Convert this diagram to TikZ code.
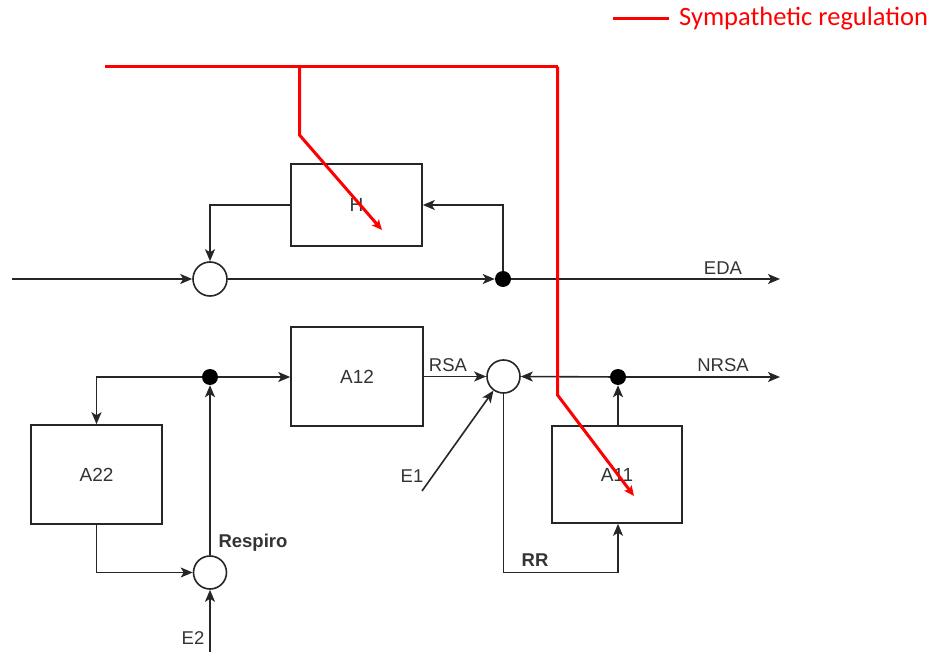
\documentclass[tikz,border=0pt]{standalone}
\usepackage{fontspec}
\setmainfont{Liberation Sans}
\newfontfamily\legendfont{Carlito}
\usetikzlibrary{arrows.meta}
\definecolor{txt}{HTML}{333333}
\definecolor{sred}{HTML}{FF0000}
\tikzset{
  blk/.style={draw=black!85, line width=1.6pt, fill=white, inner sep=0pt, text=txt,
     font=\fontsize{19}{22}\selectfont},
  sumc/.style={circle, draw=black!85, line width=1.6pt, fill=white, inner sep=0pt, minimum size=33pt},
  jdot/.style={circle, fill=black, inner sep=0pt, minimum size=16pt},
  conn/.style={draw=black!85, line width=1.6pt, -{Stealth[length=12pt,width=10pt,inset=3pt]}},
  plain/.style={draw=black!85, line width=1.6pt},
  lbl/.style={text=txt, font=\fontsize{18.5}{22}\selectfont, inner sep=0pt},
  blbl/.style={text=txt, font=\fontsize{18.5}{22}\selectfont\bfseries, inner sep=0pt},
  sym/.style={draw=sred, line width=3pt, line join=miter},
  symarr/.style={sym, -{Stealth[length=10pt,width=9pt,inset=2pt]}}
}
\begin{document}
\begin{tikzpicture}[x=1pt,y=-1pt]
\useasboundingbox (0,0) rectangle (935,652);
% legend
\coordinate (lg1) at (613,19);
\coordinate (lg2) at (669,19);
\draw[sym] (lg1) -- (lg2);
\node[anchor=west, text=sred, font=\legendfont\fontsize{26.5}{30}\selectfont, inner sep=0pt] (legend) at (679,19) {Sympathetic regulation};

% blocks
\node[blk, minimum width=131pt, minimum height=82pt] (H) at (356.5,205) {H};
\node[blk, minimum width=132pt, minimum height=99pt] (A12) at (357,376.5) {A12};
\node[blk, minimum width=130pt, minimum height=97pt] (A11) at (617,474.5) {A11};
\node[blk, minimum width=131pt, minimum height=99pt] (A22) at (96.5,474.5) {A22};

% summing junctions
\node[sumc, minimum size=34pt] (s1) at (210,279) {};
\node[sumc] (s2) at (503.5,376.5) {};
\node[sumc] (s3) at (210,572.5) {};

% branch dots
\node[jdot] (d1) at (503,279) {};
\node[jdot] (d2) at (618,377) {};
\node[jdot] (d3) at (210,377) {};

% free ends
\coordinate (in) at (12,279);
\coordinate (eda) at (780,279);
\coordinate (nrsa) at (780,377);
\coordinate (e1) at (422,491);
\coordinate (e2) at (210,652);
\coordinate (rrc) at (618,572.5);

% top loop
\draw[conn] (in) -- (s1);
\draw[conn] (s1) -- (d1);
\draw[conn] (d1) -- (eda);
\draw[conn] (d1.north) |- (H.east);
\draw[conn] (H.west) -| (s1.north);
\node[lbl] (edal) at (723,268) {EDA};

% middle
\draw[conn] (A12.east) -- (s2.west);
\node[lbl] (rsal) at (448,365) {RSA};
\draw[conn] (d2) -- (s2.east);
\draw[conn] (d2) -- (nrsa);
\node[lbl] (nrsal) at (723,365) {NRSA};
\draw[conn] (A11.north -| d2) -- (d2.south);
\draw[plain] (s2.south) |- (rrc);
\draw[conn] (rrc) -- (A11.south -| rrc);
\node[blbl] (rrl) at (535,560) {RR};
\draw[conn] (e1) -- (s2);
\node[lbl] (e1l) at (412,476) {E1};

% left
\draw[conn] (d3) -- (d3 -| A12.west);
\draw[conn] (d3.west) -| (A22.north);
\draw[conn] (s3.north) -- (d3.south);
\draw[conn] (A22.south) |- (s3.west);
\draw[conn] (e2) -- (s3.south);
\node[lbl] (e2l) at (193,638) {E2};
\node[blbl] (respl) at (253,543) {Respiro};

% sympathetic regulation
\coordinate (r0) at (105,66.7);
\coordinate (r1) at (299.5,66.7);
\coordinate (r2) at (557.5,66.7);
\coordinate (r3) at (299.5,135);
\coordinate (r4) at (382,230);
\coordinate (r5) at (557.5,395);
\coordinate (r6) at (634,496);
\draw[sym] (r0) -- (r2);
\draw[symarr] (r2) -- (r5) -- (r6);
\draw[symarr] (r1) -- (r3) -- (r4);
\end{tikzpicture}
\end{document}
